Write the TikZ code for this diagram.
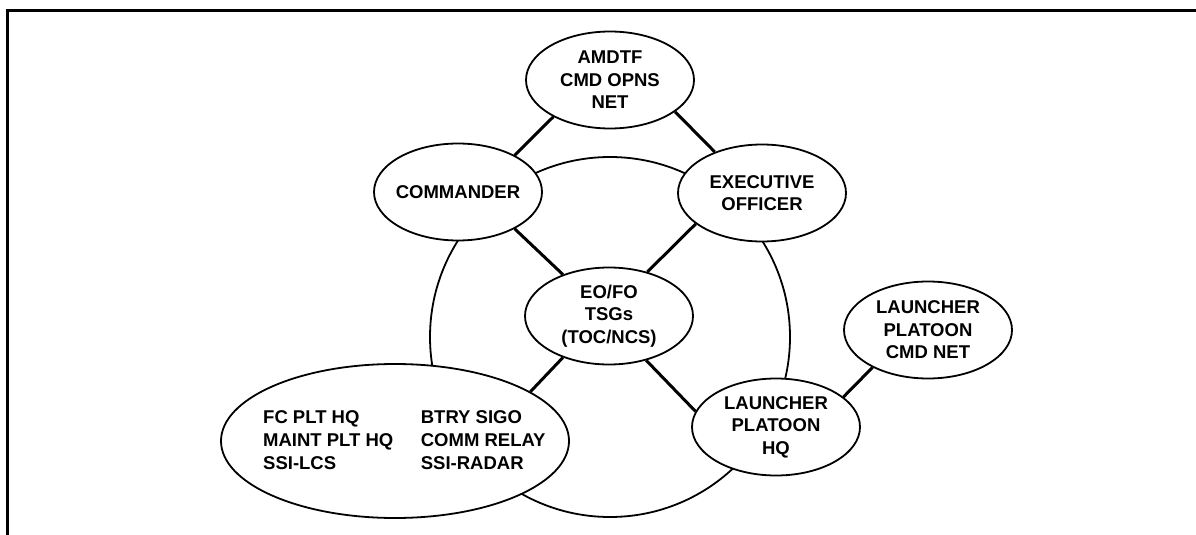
\documentclass[tikz,border=0pt]{standalone}
\usepackage{fontspec}
\setmainfont{Liberation Sans}
\usetikzlibrary{shapes.geometric}
\begin{document}
\begin{tikzpicture}[x=1pt,y=-1pt,
  txt/.style={font=\fontsize{18.5}{22.5}\selectfont\bfseries},
  net/.style={ellipse, draw, line width=1.8pt, fill=white, inner sep=0pt,
    minimum width=168pt, minimum height=97pt, align=center, txt},
  link/.style={line width=3pt},
  ring/.style={line width=1.8pt},
  frame/.style={line width=2.7pt, line join=miter}]
\useasboundingbox (0,0) rectangle (1196,535);

% open frame: left edge and top edge
\coordinate (fbl) at (7.3,536);
\coordinate (ftl) at (7.3,10.2);
\coordinate (ftr) at (1197,10.2);
\draw[frame] (fbl) -- (ftl) -- (ftr);

% battery net ring
\coordinate (hub) at (610,337);
\draw[ring] (hub) circle[radius=180];

% stations
\node[net] (amd) at (610,80) {AMDTF\\CMD OPNS\\NET};
\node[net] (cmd) at (458,192) {\makebox[100pt]{COMMANDER}};
\node[net] (xo)  at (762,193) {EXECUTIVE\\OFFICER};
\node[net] (eo)  at (609,316) {EO/FO\\TSGs\\(TOC/NCS)};
\node[net] (lphq) at (776,427) {LAUNCHER\\PLATOON\\HQ};
\node[net] (lpcn) at (928,330) {LAUNCHER\\PLATOON\\CMD NET};
\node[net, minimum width=348pt, minimum height=154pt] (grp) at (395,441) {};
\node[inner sep=0pt, anchor=west, font=\fontsize{18.5}{23}\selectfont\bfseries] (grptxt) at (263,442)
  {\begin{tabular}{@{}l@{\hspace{27.5pt}}l@{}}
   FC PLT HQ & BTRY SIGO\\
   MAINT PLT HQ & COMM RELAY\\
   SSI-LCS & SSI-RADAR
   \end{tabular}};

% links
\draw[link] (amd.213) -- (cmd.33);
\draw[link] (amd.334) -- (xo.139);
\draw[link] (cmd.327) -- (eo.138);
\draw[link] (xo.205) -- (eo.49);
\draw[link] (eo.222) -- (grp.20);
\draw[link] (eo.310) -- (lphq.169);
\draw[link] (lphq.24) -- (lpcn.214);
\end{tikzpicture}
\end{document}
